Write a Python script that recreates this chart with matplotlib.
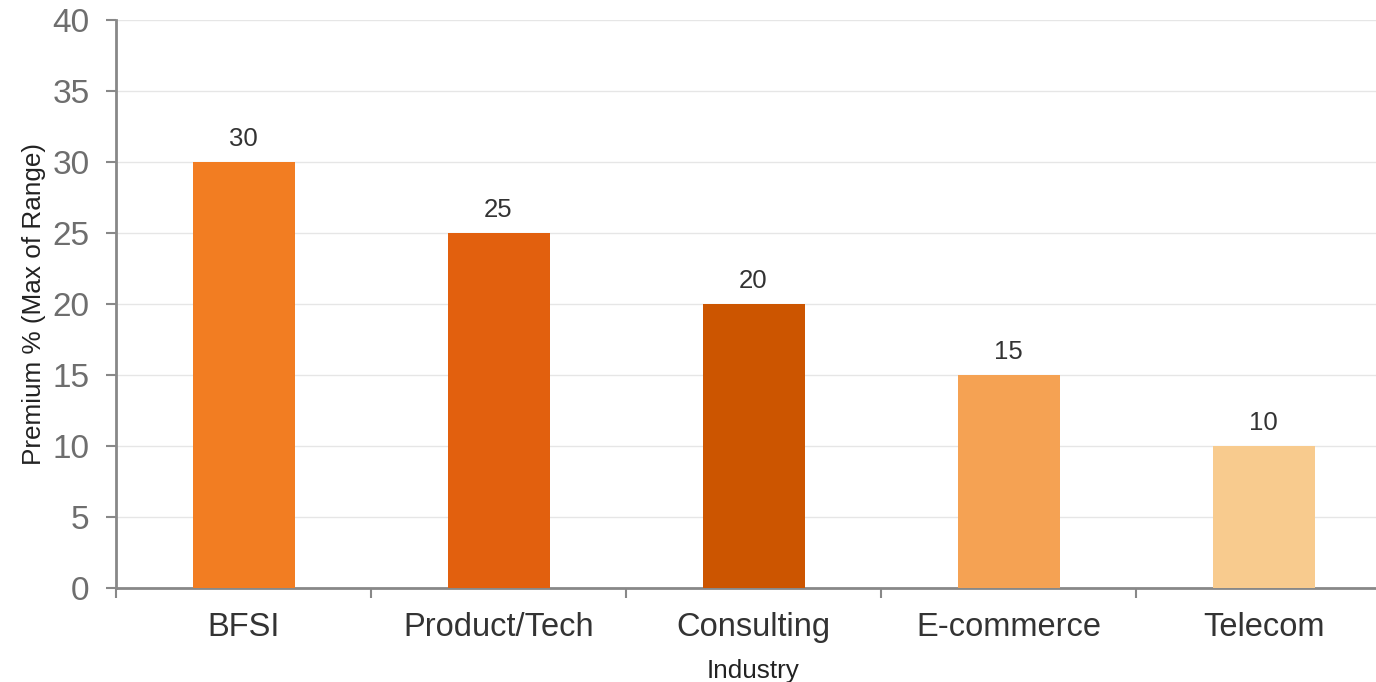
import matplotlib
matplotlib.use("Agg")
import matplotlib.pyplot as plt
from matplotlib.ticker import FixedLocator

categories = ["BFSI", "Product/Tech", "Consulting", "E-commerce", "Telecom"]
values = [30, 25, 20, 15, 10]
colors = ["#F27D22", "#E2600E", "#CC5500", "#F5A253", "#F8CB8E"]
yticks = [0, 5, 10, 15, 20, 25, 30, 35, 40]

plt.rcParams['font.family'] = ['Liberation Sans', 'DejaVu Sans']

fig = plt.figure(figsize=(13.76, 6.82), dpi=100)
ax = fig.add_axes([116/1376, 94/682, 1275/1376, 568/682])

x = list(range(len(categories)))
bars = ax.bar(x, values, width=0.4, color=colors, zorder=3)
for xi, v in zip(x, values):
    ax.annotate(str(v), (xi, v), xytext=(0, 8), textcoords="offset points",
                ha="center", va="bottom", fontsize=18.5, color="#333333")

ax.set_xlim(-0.5, len(categories) - 0.5)
ax.set_ylim(0, 40)
ax.set_yticks(yticks)
ax.set_xticks(x)
ax.set_xticklabels(categories)
ax.xaxis.set_minor_locator(FixedLocator([i - 0.5 for i in range(len(categories) + 1)]))

ax.tick_params(axis="x", which="major", length=0, pad=17, labelsize=23.5, labelcolor="#333333")
ax.tick_params(axis="x", which="minor", length=7, width=1.5, color="#888888", direction="out")
ax.tick_params(axis="y", which="major", length=7, width=1.5, color="#888888", pad=12,
               labelsize=24, labelcolor="#6e6e6e")

ax.grid(axis="y", color="#e6e6e6", linewidth=1, zorder=0)
for s in ["top", "right"]:
    ax.spines[s].set_visible(False)
for s in ["left", "bottom"]:
    ax.spines[s].set_color("#888888")
    ax.spines[s].set_linewidth(2)

ax.set_xlabel("Industry", fontsize=18.8, color="#222222", labelpad=12)
ax.set_ylabel("Premium % (Max of Range)", fontsize=18.8, color="#222222", labelpad=4.5)

fig.savefig("out.png", dpi=100)
